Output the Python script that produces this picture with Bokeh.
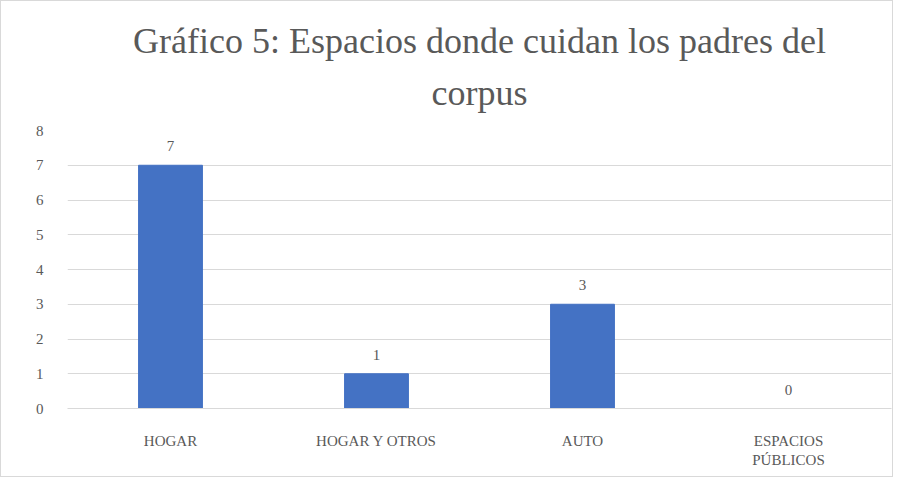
from bokeh.plotting import figure
from bokeh.models import ColumnDataSource, Title, LabelSet
from bokeh.embed import file_html
from bokeh.resources import INLINE

categories = ["HOGAR", "HOGAR Y OTROS", "AUTO", "ESPACIOS\nPÚBLICOS"]
values = [7, 1, 3, 0]
title_lines = ["Gráfico 5: Espacios donde cuidan los padres del", "corpus"]

FONT = "Liberation Serif"
AXFONT = "'Liberation Serif'"
TXT = "#595959"

src = ColumnDataSource(dict(cat=categories, val=values, lab=[str(v) for v in values]))

p = figure(x_range=categories, y_range=(0, 8), width=893, height=477,
           output_backend="svg", toolbar_location=None,
           min_border_left=66, min_border_right=3, min_border_top=129, min_border_bottom=70)

t = Title(text="\n".join(title_lines), align="center", text_align="center",
          text_font=FONT, text_font_size="36px", text_line_height=1.3,
          text_color=TXT, text_font_style="normal", standoff=35)
p.add_layout(t, "above")

p.vbar(x="cat", top="val", width=0.31, source=src, color="#4472C4")
p.add_layout(LabelSet(x="cat", y="val", text="lab", source=src, y_offset=14,
                      text_align="center", text_baseline="bottom",
                      text_font=FONT, text_font_size="15px", text_color=TXT))

p.outline_line_color = None
p.xgrid.grid_line_color = None
p.ygrid.grid_line_color = "#d9d9d9"
p.yaxis.axis_line_color = None
p.yaxis.major_tick_line_color = None
p.yaxis.minor_tick_line_color = None
p.yaxis.major_label_text_font = AXFONT
p.yaxis.major_label_text_font_size = "15px"
p.yaxis.major_label_text_color = TXT
p.yaxis.major_label_standoff = 18
p.xaxis.axis_line_color = "#d9d9d9"
p.xaxis.major_tick_line_color = None
p.xaxis.major_label_text_font = AXFONT
p.xaxis.major_label_text_font_size = "15px"
p.xaxis.major_label_text_color = TXT
p.xaxis.major_label_standoff = 18
p.styles = {"border": "1px solid #d9d9d9", "box-sizing": "border-box"}

open("out.html", "w").write(file_html(p, INLINE))
